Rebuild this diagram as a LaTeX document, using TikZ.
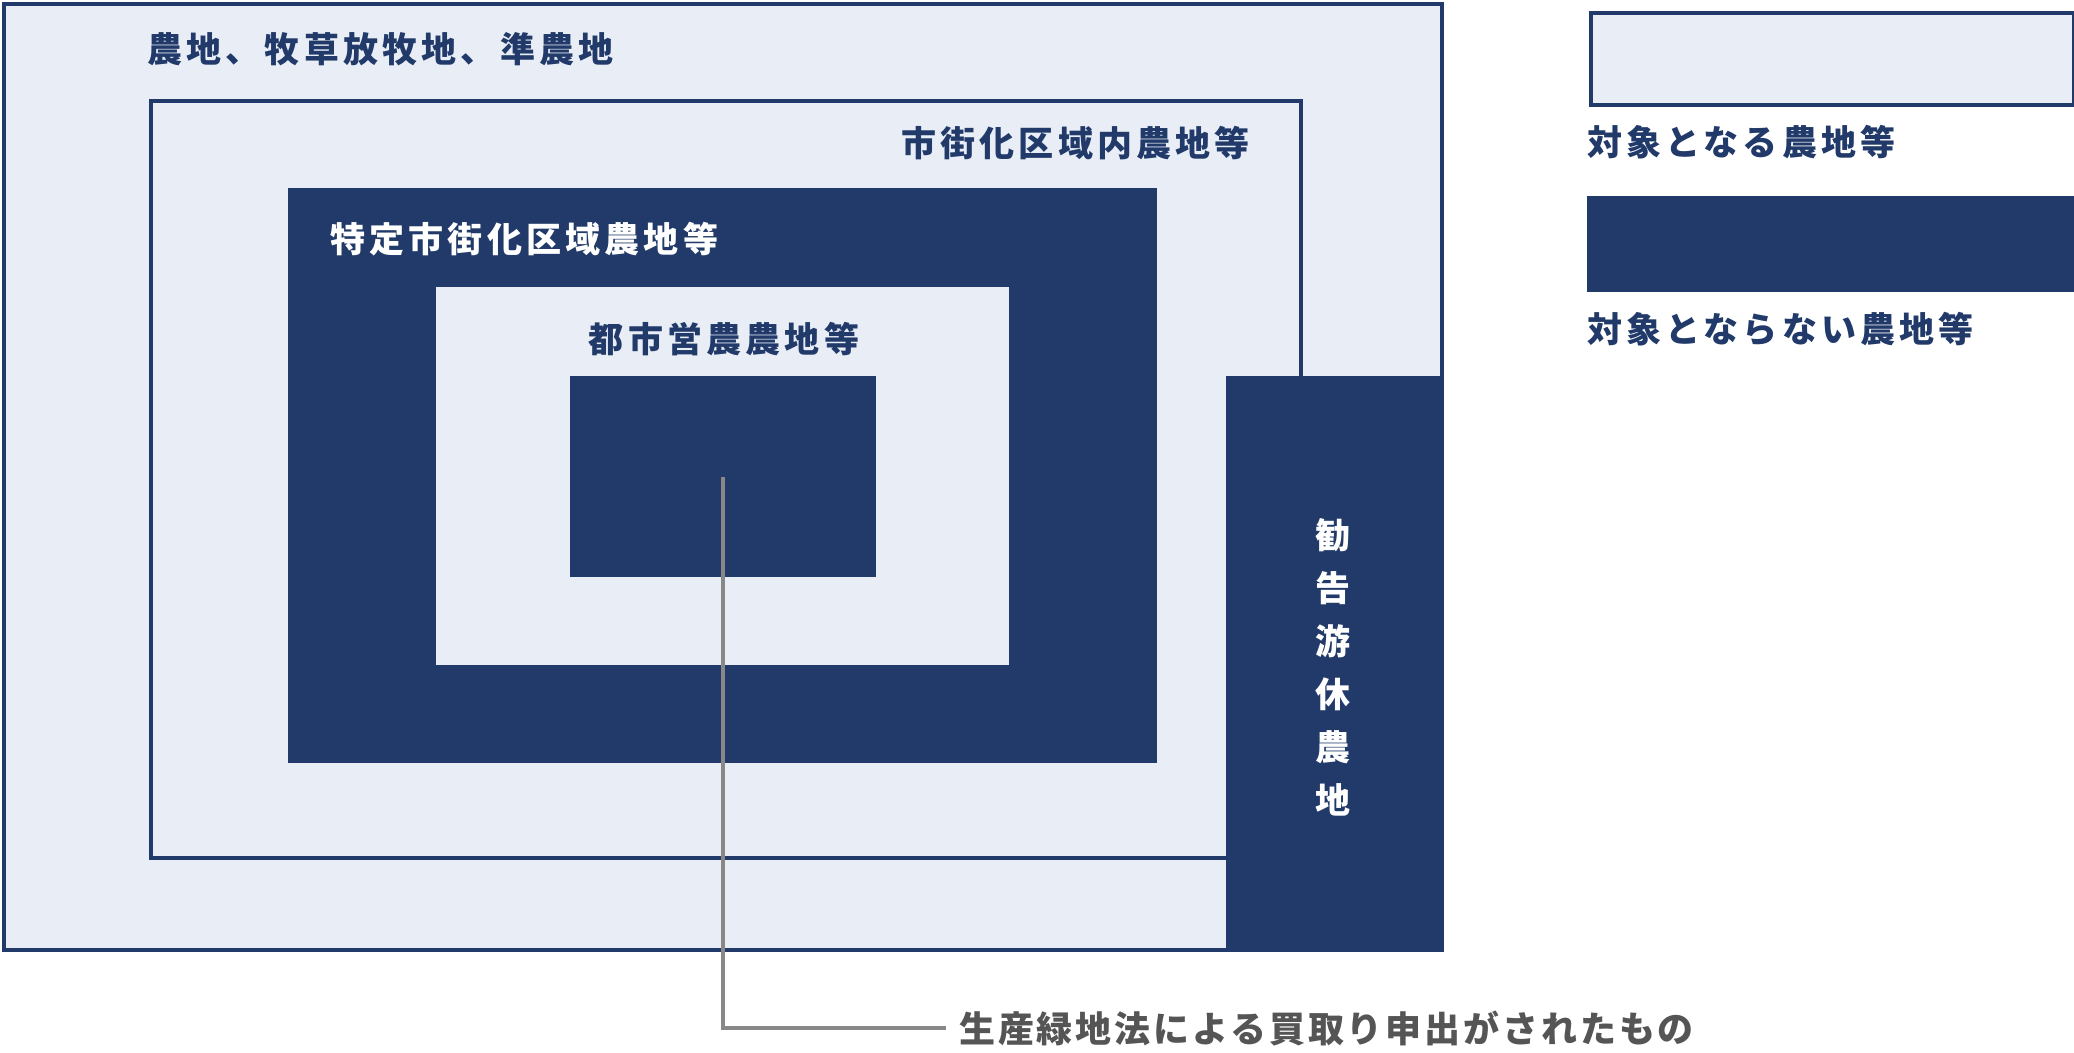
\documentclass[tikz,border=0pt]{standalone}
\usepackage{fontspec}
\newfontfamily\jpfont{Noto Sans CJK JP}[LetterSpace=12]
\newfontfamily\jpnote{Noto Sans CJK JP}[LetterSpace=8]
\usetikzlibrary{positioning}
\definecolor{navy}{HTML}{213A69}
\definecolor{pale}{HTML}{E9EEF6}
\definecolor{leadgray}{HTML}{888888}
\definecolor{notegray}{HTML}{555555}
\tikzset{
  x=1pt, y=-1pt,
  lightbox/.style={draw=navy, line width=4pt, fill=pale, inner sep=0, anchor=north west},
  darkbox/.style={fill=navy, inner sep=0, anchor=north west},
  darklabel/.style={text=navy, inner sep=0, font=\jpfont\bfseries\fontsize{35}{40}\selectfont},
  whitelabel/.style={text=white, inner sep=0, font=\jpfont\bfseries\fontsize{35}{40}\selectfont},
  lead/.style={draw=leadgray, line width=4pt}
}
\begin{document}
\begin{tikzpicture}
  \useasboundingbox (0,0) rectangle (2074,1052);

  % nested areas
  \node[lightbox, minimum width=1438pt, minimum height=946pt] (farm) at (2,2) {};
  \node[lightbox, minimum width=1150pt, minimum height=757pt] (urban) at (149,99) {};
  \node[darkbox, minimum width=869pt, minimum height=575pt] (special) at (288,188) {};
  \node[fill=pale, inner sep=0, anchor=north west, minimum width=573pt, minimum height=378pt] (citygrow) at (436,287) {};
  \node[darkbox, minimum width=306pt, minimum height=201pt] (bought) at (570,376) {};
  \node[darkbox, minimum width=216pt, minimum height=574pt] (idle) at (1226,376) {};

  % area labels
  \node[darklabel, anchor=west] (farmlbl) at (147,49) {農地、牧草放牧地、準農地};
  \node[darklabel, anchor=east] (urbanlbl) at (1250,143) {市街化区域内農地等};
  \node[whitelabel, anchor=west] (speciallbl) at (330,239) {特定市街化区域農地等};
  \node[darklabel] (citygrowlbl) at (724,339) {都市営農農地等};
  \node[whitelabel, align=center, font=\jpfont\bfseries\fontsize{35}{53}\selectfont] (idlelbl) at (1333,667) {勧\\告\\游\\休\\農\\地};

  % legend
  \node[lightbox, minimum width=483pt, minimum height=92pt] (keyin) at (1589,11) {};
  \node[darklabel, anchor=west] (keyinlbl) at (1587,142) {対象となる農地等};
  \node[darkbox, minimum width=487pt, minimum height=96pt] (keyout) at (1587,196) {};
  \node[darklabel, anchor=west] (keyoutlbl) at (1587,329) {対象とならない農地等};

  % note
  \node[text=notegray, inner sep=0, anchor=west, font=\jpnote\bfseries\fontsize{36}{40}\selectfont] (note) at (959,1028) {生産緑地法による買取り申出がされたもの};
  \coordinate (noteend) at (946,1028);
  \draw[lead] (bought.center) |- (noteend);
\end{tikzpicture}
\end{document}
